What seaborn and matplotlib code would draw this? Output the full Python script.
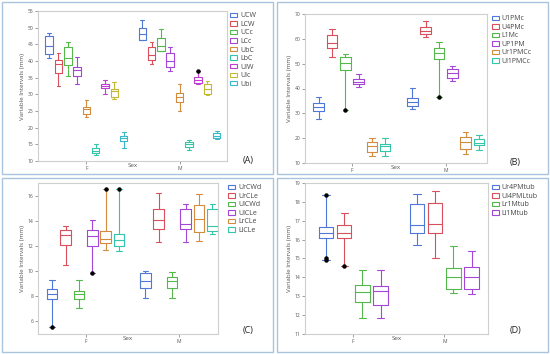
import matplotlib
matplotlib.use("Agg")
import matplotlib.pyplot as plt
import matplotlib.patches as mpatches
import seaborn as sns
import pandas as pd

SEX = ["F", "M"]

# Panel A
A_VARS = ["UCW", "LCW", "UCc", "LCc", "UbC", "LbC", "UIW", "UIc", "Ubi"]
A_F = [(41.0, 42.2, 44.5, 47.5, 48.5), (32.5, 36.4, 39.2, 40.2, 42.4),
       (35.6, 38.7, 41.0, 44.2, 45.7), (33.0, 35.4, 37.4, 38.2, 41.2),
       (23.1, 24.1, 25.5, 26.3, 28.3), (11.8, 12.3, 13.0, 14.0, 15.0),
       (30.2, 31.8, 32.5, 33.0, 34.3), (28.6, 29.2, 31.0, 31.6, 33.6),
       (14.0, 16.0, 16.8, 17.4, 18.8)]
A_M = [(46.3, 46.4, 48.2, 50.0, 52.4), (39.2, 40.2, 41.7, 44.2, 45.7),
       (43.0, 43.1, 44.6, 46.9, 49.7), (37.0, 38.2, 39.9, 42.5, 44.2),
       (25.0, 27.7, 29.3, 30.3, 33.0), (13.2, 14.3, 15.0, 15.8, 16.3),
       (33.2, 33.4, 34.3, 35.1, 37.0), (29.8, 30.1, 31.7, 33.1, 34.1),
       (16.6, 17.0, 17.6, 18.3, 19.0)]
A_OUT = [("UIW", "M", 37.0)]

# Panel B
B_VARS = ["U1PMc", "U4PMc", "L1Mc", "UP1PM", "Ur1PMCc", "Ul1PMCc"]
B_F = [(27.9, 31.1, 32.6, 34.2, 36.6), (52.6, 56.5, 58.4, 61.5, 63.9),
       (31.2, 47.5, 50.2, 52.6, 53.9), (40.8, 41.9, 42.8, 43.8, 45.8),
       (12.7, 14.4, 16.7, 18.3, 20.0), (12.9, 14.7, 16.7, 17.6, 20.0)]
B_M = [(31.7, 32.8, 34.6, 36.2, 40.4), (60.6, 62.0, 63.3, 64.9, 67.3),
       (36.5, 51.8, 54.2, 56.2, 58.9), (43.1, 44.4, 46.2, 47.8, 49.2),
       (13.8, 15.8, 18.4, 20.3, 22.5), (15.1, 17.1, 18.0, 19.6, 21.4)]
B_OUT = [("L1Mc", "F", 31.2), ("L1Mc", "M", 36.5)]

# Panel C
C_VARS = ["UrCWd", "UrCLe", "UlCWd", "UlCLe", "LrCLe", "LlCLe"]
C_F = [(5.55, 7.8, 8.16, 8.6, 9.33), (10.55, 12.1, 12.9, 13.3, 13.6),
       (7.1, 7.8, 8.16, 8.4, 9.33), (9.9, 12.05, 12.8, 13.3, 14.1),
       (11.7, 12.3, 12.6, 13.2, 16.6), (11.6, 12.0, 12.5, 13.0, 16.6)]
C_M = [(7.87, 8.7, 9.25, 9.85, 10.0), (12.35, 13.36, 14.08, 14.96, 16.3),
       (7.9, 8.7, 9.2, 9.55, 9.95), (12.35, 13.4, 13.8, 14.96, 15.4),
       (12.4, 13.15, 14.2, 15.3, 16.2), (13.0, 13.2, 13.6, 14.96, 15.4)]
C_OUT = [("UrCWd", "F", 5.55), ("UlCLe", "F", 9.9),
         ("LrCLe", "F", 16.6), ("LlCLe", "F", 16.6)]

# Panel D
D_VARS = ["Ur4PMtub", "Ul4PMLtub", "Lr1Mtub", "Ll1Mtub"]
D_F = [(14.92, 16.09, 16.36, 16.68, 18.35), (14.6, 16.06, 16.36, 16.77, 17.42),
       (11.84, 12.67, 13.23, 13.6, 14.4), (11.84, 12.53, 13.27, 13.53, 14.4)]
D_M = [(15.7, 16.36, 16.76, 17.9, 18.43), (15.05, 16.36, 16.84, 17.96, 18.6),
       (13.15, 13.37, 14.0, 14.52, 15.65), (13.12, 13.38, 14.0, 14.55, 15.4)]
D_OUT = [("Ur4PMtub", "F", 18.35), ("Ur4PMtub", "F", 15.05),
         ("Ur4PMtub", "F", 14.92), ("Ul4PMLtub", "F", 14.6)]

COLORS = ["#4F78D8", "#DA4F5C", "#55B84A", "#A646D6", "#D38C3E",
          "#34C6A8", "#BE3FD2", "#C3B833", "#38B9C9"]

sns.set_theme(style="white")
plt.rcParams["font.family"] = ["Open Sans", "DejaVu Sans"]

fig = plt.figure(figsize=(5.5, 3.54), dpi=100)
W, H = 550.0, 354.0

FRAME = "#A9C4DF"
for (x0, y0, x1, y1) in [(2, 2, 273, 174), (277, 2, 548, 174),
                         (2, 178, 273, 352), (277, 178, 548, 352)]:
    fig.patches.append(mpatches.Rectangle(
        (x0 / W, 1 - y1 / H), (x1 - x0) / W, (y1 - y0) / H,
        transform=fig.transFigure, fill=False, edgecolor=FRAME, linewidth=1.0))


def axes_px(l, t, r, b):
    return fig.add_axes([l / W, 1 - b / H, (r - l) / W, (b - t) / H])


def panel(ax, vars_, f_stats, m_stats, outs, width, ylim, yticks, xlim,
          leg_x):
    rows = []
    for sex, stats in (("F", f_stats), ("M", m_stats)):
        for v, s in zip(vars_, stats):
            for val in s:
                rows.append((sex, v, val))
    df = pd.DataFrame(rows, columns=["Sex", "Variable", "Value"])
    pal = dict(zip(vars_, COLORS[:len(vars_)]))
    sns.boxplot(data=df, x="Sex", y="Value", hue="Variable", order=SEX,
                hue_order=vars_, palette=pal, fill=False, width=width,
                dodge=True, gap=0.2, whis=(0, 100), linewidth=0.8,
                showfliers=False, legend=False, ax=ax)
    odf = pd.DataFrame(outs, columns=["Variable", "Sex", "Value"])
    odf["rank"] = odf.groupby(["Variable", "Sex"]).cumcount()
    for _, sub in odf.groupby("rank"):
        sns.boxplot(data=sub, x="Sex", y="Value", hue="Variable", order=SEX,
                    hue_order=vars_, palette=pal, fill=False, width=width,
                    dodge=True, gap=0.2, showmeans=True, showbox=False,
                    showcaps=False, showfliers=False,
                    whiskerprops={"visible": False},
                    medianprops={"visible": False},
                    meanprops=dict(marker="o", markerfacecolor="black",
                                   markeredgecolor="black", markersize=2.2),
                    legend=False, ax=ax)
    ax.set_xlim(*xlim)
    ax.set_ylim(*ylim)
    ax.set_yticks(yticks)
    ax.set_yticklabels([str(t) for t in yticks])
    ax.set_xlabel("Sex", fontsize=4.5, color="#555555")
    ax.xaxis.set_label_coords(0.5, -0.012)
    ax.set_ylabel("Variable Intervals (mm)", fontsize=4.5, color="#555555",
                  labelpad=2)
    ax.tick_params(axis="both", labelsize=3.6, colors="#555555", length=2,
                   width=0.4, pad=1.5, left=True, bottom=True)
    for sp in ax.spines.values():
        sp.set_color("#CFCFCF")
        sp.set_linewidth(0.8)
    handles = [mpatches.Patch(facecolor="white", edgecolor=c, linewidth=0.8,
                              label=v)
               for v, c in zip(vars_, COLORS[:len(vars_)])]
    leg = ax.legend(handles=handles, loc="upper left",
                    bbox_to_anchor=(leg_x, 1.0), frameon=False, fontsize=5,
                    handlelength=1.0, handleheight=0.55, handletextpad=0.4,
                    labelspacing=0.22, borderaxespad=0, borderpad=0.2)
    for t in leg.get_texts():
        t.set_color("#444444")
    return ax


axA = axes_px(38, 11, 227, 161)
panel(axA, A_VARS, A_F, A_M, A_OUT, 0.9, (10, 55), list(range(10, 56, 5)),
      (-0.52, 1.51), 1.01)
fig.text(248 / W, 1 - 160 / H, "(A)", fontsize=6.5, ha="center",
         va="center", color="#222222")

axB = axes_px(305, 14, 487, 163)
panel(axB, B_VARS, B_F, B_M, B_OUT, 0.85, (10, 70), list(range(10, 71, 10)),
      (-0.50, 1.44), 1.02)
fig.text(515 / W, 1 - 163 / H, "(B)", fontsize=6.5, ha="center",
         va="center", color="#222222")

axC = axes_px(38, 183, 218, 334)
panel(axC, C_VARS, C_F, C_M, C_OUT, 0.86, (5.0, 17.07), [6, 8, 10, 12, 14, 16],
      (-0.51, 1.42), 1.05)
fig.text(248 / W, 1 - 331 / H, "(C)", fontsize=6.5, ha="center",
         va="center", color="#222222")

axD = axes_px(305, 183, 488, 334)
panel(axD, D_VARS, D_F, D_M, D_OUT, 0.8, (11, 19), list(range(11, 20)),
      (-0.53, 1.48), 1.015)
fig.text(515 / W, 1 - 331 / H, "(D)", fontsize=6.5, ha="center",
         va="center", color="#222222")

fig.savefig("out.png", dpi=100)
